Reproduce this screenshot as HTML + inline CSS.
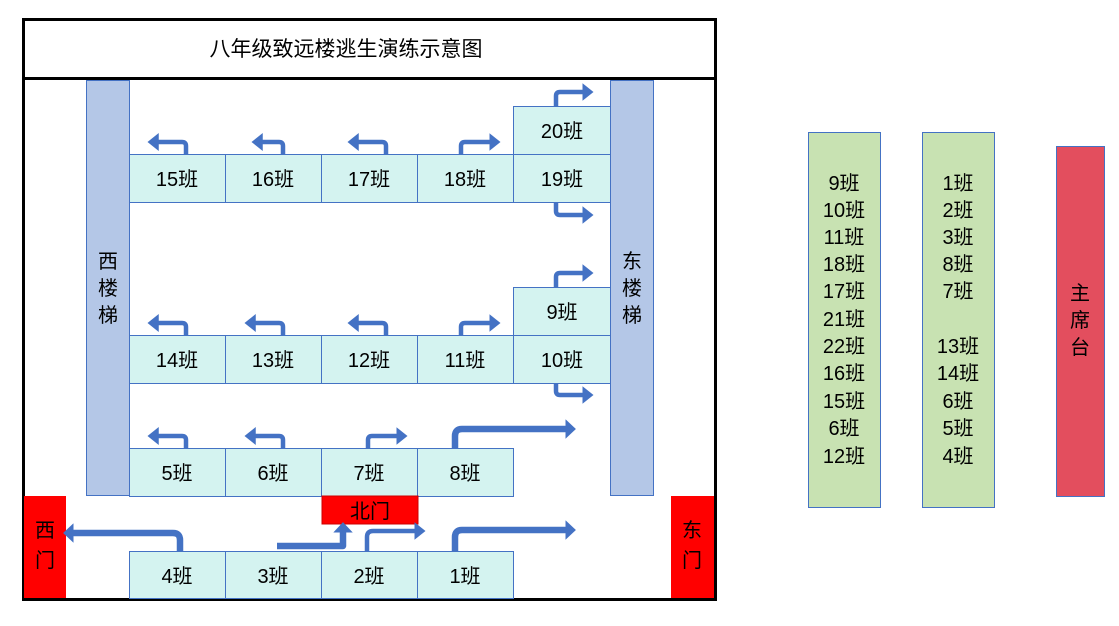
<!DOCTYPE html>
<html><head><meta charset="utf-8"><style>
html,body{margin:0;padding:0;background:#fff;}
svg text{font-family:"Liberation Sans","Noto Sans CJK SC",sans-serif;fill:#000;}
</style></head><body>
<svg width="1119" height="621" viewBox="0 0 1119 621" xmlns="http://www.w3.org/2000/svg">
<defs>
<marker id="a" markerWidth="4" markerHeight="4" refX="1.5" refY="2" orient="auto" markerUnits="strokeWidth"><path d="M0,0 L2.5,2 L0,4 z" fill="#4472c4"/></marker>
<marker id="b" markerWidth="3" markerHeight="3" refX="1" refY="1.5" orient="auto" markerUnits="strokeWidth"><path d="M0,0 L1.6,1.5 L0,3 z" fill="#4472c4"/></marker>
</defs>
<rect x="23.5" y="19.5" width="692" height="580" fill="#fff" stroke="#000" stroke-width="3"/>
<line x1="23" y1="78.5" x2="716" y2="78.5" stroke="#000" stroke-width="3"/>
<text x="346" y="56" font-size="21" text-anchor="middle">八年级致远楼逃生演练示意图</text>
<g stroke="#4472c4" stroke-width="1">
<rect x="86.5" y="80.5" width="43" height="415" fill="#b4c7e7"/>
<rect x="610.5" y="80.5" width="43" height="415" fill="#b4c7e7"/>
<g fill="#d4f3f0">
<rect x="129.5" y="154.5" width="96" height="48"/><rect x="225.5" y="154.5" width="96" height="48"/><rect x="321.5" y="154.5" width="96" height="48"/><rect x="417.5" y="154.5" width="96" height="48"/><rect x="513.5" y="154.5" width="97" height="48"/><rect x="513.5" y="106.5" width="97" height="48"/>
<rect x="129.5" y="335.5" width="96" height="48"/><rect x="225.5" y="335.5" width="96" height="48"/><rect x="321.5" y="335.5" width="96" height="48"/><rect x="417.5" y="335.5" width="96" height="48"/><rect x="513.5" y="335.5" width="97" height="48"/><rect x="513.5" y="287.5" width="97" height="48"/>
<rect x="129.5" y="448.5" width="96" height="48"/><rect x="225.5" y="448.5" width="96" height="48"/><rect x="321.5" y="448.5" width="96" height="48"/><rect x="417.5" y="448.5" width="96" height="48"/>
<rect x="129.5" y="551.5" width="96" height="47"/><rect x="225.5" y="551.5" width="96" height="47"/><rect x="321.5" y="551.5" width="96" height="47"/><rect x="417.5" y="551.5" width="96" height="47"/>
</g>
<rect x="808.5" y="132.5" width="72" height="375" fill="#c8e2b2"/>
<rect x="922.5" y="132.5" width="72" height="375" fill="#c8e2b2"/>
<rect x="1056.5" y="146.5" width="48" height="350" fill="#e34e5e"/>
</g>
<rect x="322" y="496" width="96" height="28" fill="#f00" stroke="#c00"/>
<rect x="24" y="496" width="42" height="102" fill="#f00"/>
<rect x="671" y="496" width="43" height="102" fill="#f00"/>
<g fill="none" stroke="#4472c4" stroke-width="4.5" marker-end="url(#a)" stroke-linejoin="round">
<path d="M186,154 V146 Q186,142 182,142 H152"/>
<path d="M283,154 V146 Q283,142 279,142 H256"/>
<path d="M386,154 V146 Q386,142 382,142 H352"/>
<path d="M461,154 V146 Q461,142 465,142 H496"/>
<path d="M556,106 V96 Q556,92 560,92 H589"/>
<path d="M556,202 V211 Q556,215 560,215 H589"/>
<path d="M186,335 V327 Q186,323 182,323 H152"/>
<path d="M283,335 V327 Q283,323 279,323 H249"/>
<path d="M386,335 V327 Q386,323 382,323 H352"/>
<path d="M461,335 V327 Q461,323 465,323 H496"/>
<path d="M556,287 V277 Q556,273 560,273 H589"/>
<path d="M556,383 V391 Q556,395 560,395 H589"/>
<path d="M186,448 V440 Q186,436 182,436 H152"/>
<path d="M283,448 V440 Q283,436 279,436 H249"/>
<path d="M368,448 V440 Q368,436 372,436 H403"/>
<path d="M367,551 V537 Q367,531 373,531 H421"/>
</g>
<g fill="none" stroke="#4472c4" stroke-width="6.5" marker-end="url(#b)" stroke-linejoin="round">
<path d="M455,448 V436 Q455,429 462,429 H572"/>
<path d="M455,551 V537 Q455,530 462,530 H572"/>
<path d="M180,551 V540 Q180,533 173,533 H67"/>
<path d="M277,546 H343 V526"/>
</g>
<g font-size="20" text-anchor="middle">
<text x="177" y="186">15班</text><text x="273" y="186">16班</text><text x="369" y="186">17班</text><text x="465" y="186">18班</text><text x="562" y="186">19班</text><text x="562" y="138">20班</text>
<text x="177" y="367">14班</text><text x="273" y="367">13班</text><text x="369" y="367">12班</text><text x="465" y="367">11班</text><text x="562" y="367">10班</text><text x="562" y="319">9班</text>
<text x="177" y="480">5班</text><text x="273" y="480">6班</text><text x="369" y="480">7班</text><text x="465" y="480">8班</text>
<text x="177" y="583">4班</text><text x="273" y="583">3班</text><text x="369" y="583">2班</text><text x="465" y="583">1班</text>
<text x="370" y="518">北门</text>
<text x="108" y="268">西</text><text x="108" y="295">楼</text><text x="108" y="322">梯</text>
<text x="632" y="268">东</text><text x="632" y="295">楼</text><text x="632" y="322">梯</text>
<text x="45" y="537">西</text><text x="45" y="567">门</text>
<text x="692" y="537">东</text><text x="692" y="567">门</text>
<text x="1080" y="300">主</text><text x="1080" y="327">席</text><text x="1080" y="354">台</text>
</g>
<g font-size="20" text-anchor="middle">
<text x="844" y="190">9班</text><text x="844" y="217">10班</text><text x="844" y="244">11班</text><text x="844" y="271">18班</text><text x="844" y="298">17班</text><text x="844" y="326">21班</text><text x="844" y="353">22班</text><text x="844" y="380">16班</text><text x="844" y="408">15班</text><text x="844" y="435">6班</text><text x="844" y="463">12班</text>
<text x="958" y="190">1班</text><text x="958" y="217">2班</text><text x="958" y="244">3班</text><text x="958" y="271">8班</text><text x="958" y="298">7班</text><text x="958" y="353">13班</text><text x="958" y="380">14班</text><text x="958" y="408">6班</text><text x="958" y="435">5班</text><text x="958" y="463">4班</text>
</g>
</svg>
</body></html>
